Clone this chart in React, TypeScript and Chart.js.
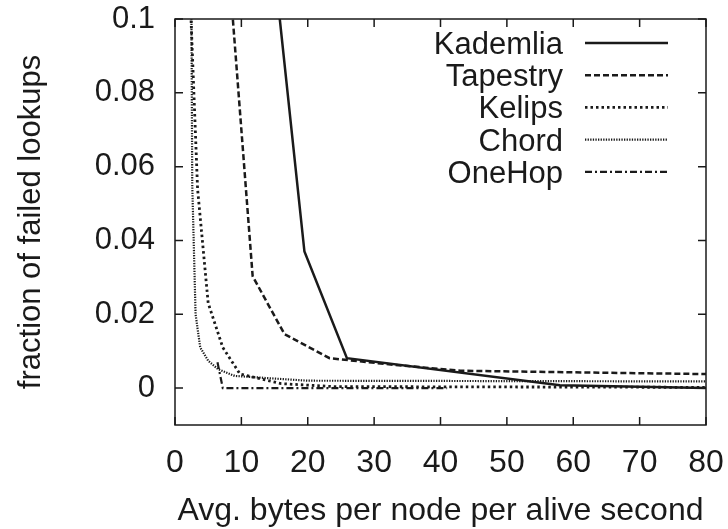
import React, { useEffect, useRef } from "react";
import { Chart, registerables } from "chart.js";

Chart.register(...registerables);

const FONT = '"Liberation Sans", Arial, Helvetica, sans-serif';
const INK = "#1a1a1a";

// ---- data ----
const xTicks = [0, 10, 20, 30, 40, 50, 60, 70, 80];
const yTicks = [0, 0.02, 0.04, 0.06, 0.08, 0.1];

const seriesNames = ["Kademlia", "Tapestry", "Kelips", "Chord", "OneHop"];

const kademliaX = [14.9, 19.5, 25.9, 58, 80];
const kademliaY = [0.115, 0.037, 0.0081, 0.0008, 0.0];

const tapestryX = [8.2, 11.7, 16.5, 23.3, 33, 43, 67, 80];
const tapestryY = [0.112, 0.0303, 0.0146, 0.0081, 0.0063, 0.0047, 0.0041, 0.0038];

const kelipsX = [2.2, 3.4, 5, 7.2, 9.8, 16, 24, 80];
const kelipsY = [0.11, 0.054, 0.023, 0.011, 0.0038, 0.0012, 0.0004, 0.0002];

const chordX = [2.45, 2.6, 3.1, 3.8, 5, 6.5, 9, 14, 20, 80];
const chordY = [0.11, 0.055, 0.02, 0.011, 0.0074, 0.0051, 0.0033, 0.0027, 0.002, 0.0018];

const oneHopX = [6.4, 7.2, 41];
const oneHopY = [0.007, 0, 0];

const seriesX = [kademliaX, tapestryX, kelipsX, chordX, oneHopX];
const seriesY = [kademliaY, tapestryY, kelipsY, chordY, oneHopY];

// ---- styles ----
const lineStyles = [
  { dash: [] as number[], width: 2.5 },
  { dash: [6, 3], width: 2.5 },
  { dash: [2.5, 3], width: 2.8 },
  { dash: [1.3, 1.3], width: 2.2 },
  { dash: [7, 3, 2, 3], width: 2.2 },
];

const framePlugin = {
  id: "gnuFrame",
  afterDatasetsDraw(chart: any) {
    const { ctx, chartArea: a, scales } = chart;
    ctx.save();
    ctx.strokeStyle = INK;
    ctx.lineWidth = 1.5;
    ctx.setLineDash([]);
    ctx.strokeRect(a.left, a.top, a.right - a.left, a.bottom - a.top);
    const tl = 8;
    ctx.beginPath();
    for (const v of xTicks) {
      const px = scales.x.getPixelForValue(v);
      ctx.moveTo(px, a.bottom);
      ctx.lineTo(px, a.bottom - tl);
      ctx.moveTo(px, a.top);
      ctx.lineTo(px, a.top + tl);
    }
    for (const v of yTicks) {
      const py = scales.y.getPixelForValue(v);
      ctx.moveTo(a.left, py);
      ctx.lineTo(a.left + tl, py);
      ctx.moveTo(a.right, py);
      ctx.lineTo(a.right - tl, py);
    }
    ctx.stroke();

    // legend
    ctx.font = `31px ${FONT}`;
    ctx.fillStyle = INK;
    ctx.textAlign = "right";
    ctx.textBaseline = "alphabetic";
    const textRight = a.right - 143;
    const x0 = a.right - 121;
    const x1 = a.right - 38;
    chart.data.datasets.forEach((ds: any, i: number) => {
      const y = a.top + 24 + i * 32.2;
      ctx.fillText(ds.label, textRight, y + 11);
      ctx.beginPath();
      ctx.setLineDash(ds.borderDash || []);
      ctx.lineWidth = ds.borderWidth;
      ctx.strokeStyle = ds.borderColor;
      ctx.moveTo(x0, y);
      ctx.lineTo(x1, y);
      ctx.stroke();
    });
    ctx.restore();
  },
};

export default function App() {
  const ref = useRef<HTMLCanvasElement | null>(null);

  useEffect(() => {
    if (!ref.current) return;
    const datasets = seriesNames.map((name, i) => ({
      label: name,
      data: seriesX[i].map((x, j) => ({ x, y: seriesY[i][j] })),
      borderColor: INK,
      borderWidth: lineStyles[i].width,
      borderDash: lineStyles[i].dash,
      pointRadius: 0,
      tension: 0,
      fill: false,
    }));
    const chart = new Chart(ref.current, {
      type: "line",
      data: { datasets },
      options: {
        animation: false,
        responsive: false,
        maintainAspectRatio: false,
        devicePixelRatio: 1,
        layout: { padding: { left: 0, top: 19, right: 22, bottom: 0 } },
        plugins: { legend: { display: false }, tooltip: { enabled: false } },
        scales: {
          x: {
            type: "linear",
            min: 0,
            max: 80,
            grid: { display: false, drawTicks: false },
            border: { display: false },
            afterBuildTicks: (s: any) => {
              s.ticks = xTicks.map((v) => ({ value: v }));
            },
            afterFit: (s: any) => {
              s.height = 104;
              s.paddingLeft = 0;
              s.paddingRight = 0;
            },
            ticks: {
              padding: 19,
              autoSkip: false,
              maxRotation: 0,
              color: INK,
              font: { size: 32, family: FONT },
              callback: (v: any) => String(v),
            },
            title: {
              display: true,
              text: "Avg. bytes per node per alive second",
              color: INK,
              font: { size: 32, family: FONT, lineHeight: 1.1 },
              padding: { top: 0, bottom: 0.5 },
            },
          },
          y: {
            type: "linear",
            min: -0.01,
            max: 0.1,
            grid: { display: false, drawTicks: false },
            border: { display: false },
            afterBuildTicks: (s: any) => {
              s.ticks = yTicks.map((v) => ({ value: v }));
            },
            afterFit: (s: any) => {
              s.width = 175;
              s.paddingTop = 0;
              s.paddingBottom = 0;
            },
            ticks: {
              padding: 20,
              autoSkip: false,
              color: INK,
              font: { size: 31, family: FONT },
              callback: (v: any) => String(v),
            },
            title: {
              display: true,
              text: "fraction of failed lookups",
              color: INK,
              font: { size: 31, family: FONT },
              padding: { top: 12.5, bottom: 0 },
            },
          },
        },
      },
      plugins: [framePlugin],
    } as any);
    return () => chart.destroy();
  }, []);

  return (
    <div style={{ position: "absolute", left: 0, top: 0, width: 728, height: 529, background: "#fff" }}>
      <canvas ref={ref} width={728} height={529} style={{ display: "block", width: 728, height: 529 }} />
    </div>
  );
}
